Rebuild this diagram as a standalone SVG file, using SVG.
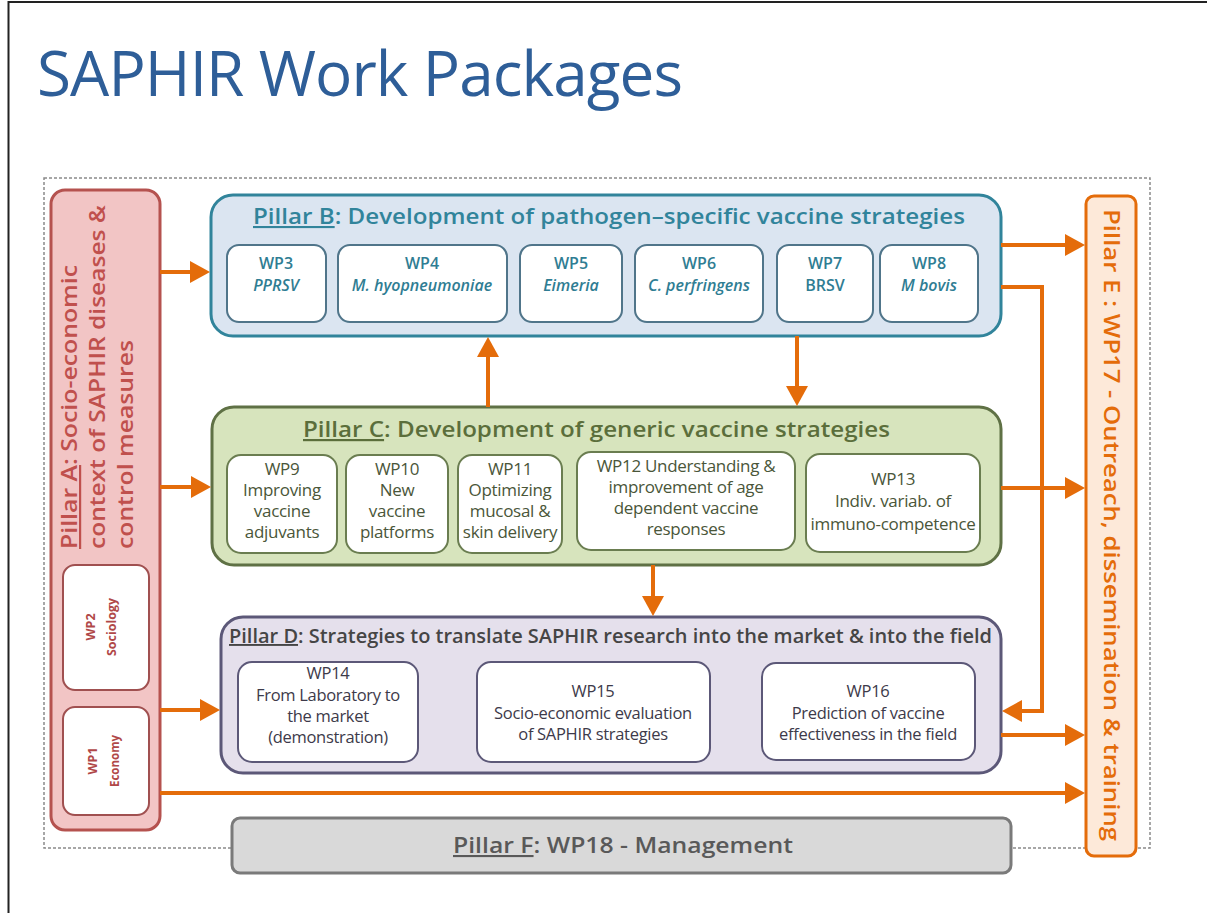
<svg xmlns="http://www.w3.org/2000/svg" width="1207" height="913" viewBox="0 0 1207 913">
<defs>
<style>
text{font-family:"Open Sans","Liberation Sans",sans-serif}
.pbox{stroke-width:3}
.sub{fill:#ffffff;stroke-width:2}
.conn{fill:none;stroke:#e46c0a;stroke-width:4;marker-end:url(#ah)}
.ttl{font-weight:600}
.bt{font-size:16px;font-weight:600;fill:#2f7d93;text-anchor:middle}
.ct{font-size:17px;font-weight:500;fill:#4a5639;text-anchor:middle;letter-spacing:-0.3px}
.dt{font-size:16.5px;font-weight:500;fill:#3d3a4a;text-anchor:middle;letter-spacing:-0.3px}
.at{font-size:12.5px;font-weight:700;fill:#b04848;text-anchor:middle}
</style>
<marker id="ah" viewBox="0 0 20 22" refX="10" refY="11" markerUnits="userSpaceOnUse" markerWidth="20" markerHeight="22" orient="auto">
<path d="M0,0 L20,11 L0,22 z" fill="#e46c0a"/>
</marker>
</defs>
<rect x="0" y="0" width="1207" height="913" fill="#ffffff"/>
<path d="M8.5,913 V2 H1207" fill="none" stroke="#222" stroke-width="2"/>
<text x="37" y="96" font-size="62" textLength="646" fill="#2e5e98">SAPHIR Work Packages</text>
<rect x="44" y="178" width="1106" height="670" fill="none" stroke="#8a8a8a" stroke-width="1.5" stroke-dasharray="3 2"/>

<g id="pillarA">
<rect class="pbox" x="51" y="190" width="109" height="640" rx="14" fill="#f2c5c5" stroke="#b5524f"/>
<text class="ttl" font-size="22" fill="#c0504d" transform="translate(77,549) rotate(-90)" textLength="284" lengthAdjust="spacingAndGlyphs"><tspan text-decoration="underline">Pillar A</tspan>: Socio-economic</text>
<text class="ttl" font-size="22" fill="#c0504d" transform="translate(105,549) rotate(-90)" textLength="344" lengthAdjust="spacingAndGlyphs">context of SAPHIR diseases &amp;</text>
<text class="ttl" font-size="22" fill="#c0504d" transform="translate(133,549) rotate(-90)" textLength="209" lengthAdjust="spacingAndGlyphs">control measures</text>
</g>
<g id="wp2">
<rect class="sub" x="63" y="565" width="86" height="125" rx="12" stroke="#a05050"/>
<text class="at" transform="translate(95,627) rotate(-90)">WP2</text>
<text class="at" transform="translate(116,627) rotate(-90)" textLength="58" lengthAdjust="spacingAndGlyphs">Sociology</text>
</g>
<g id="wp1">
<rect class="sub" x="63" y="707" width="86" height="108" rx="12" stroke="#a05050"/>
<text class="at" transform="translate(97,761) rotate(-90)">WP1</text>
<text class="at" transform="translate(119,761) rotate(-90)" textLength="52" lengthAdjust="spacingAndGlyphs">Economy</text>
</g>

<g id="pillarB">
<rect class="pbox" x="211" y="195" width="790" height="141" rx="22" fill="#dbe5f1" stroke="#31849b"/>
<text class="ttl" x="253" y="224" font-size="21" fill="#31849b" textLength="712" lengthAdjust="spacingAndGlyphs"><tspan text-decoration="underline">Pillar B</tspan>: Development of pathogen–specific vaccine strategies</text>
</g>
<g id="wp3"><rect class="sub" x="227" y="245" width="99" height="77" rx="12" stroke="#50758a"/>
<text class="bt" x="276" y="269">WP3</text><text class="bt" x="276" y="291" font-style="italic">PPRSV</text></g>
<g id="wp4"><rect class="sub" x="338" y="245" width="169" height="77" rx="12" stroke="#50758a"/>
<text class="bt" x="422" y="269">WP4</text><text class="bt" x="422" y="291" font-style="italic">M. hyopneumoniae</text></g>
<g id="wp5"><rect class="sub" x="520" y="245" width="102" height="77" rx="12" stroke="#50758a"/>
<text class="bt" x="571" y="269">WP5</text><text class="bt" x="571" y="291" font-style="italic">Eimeria</text></g>
<g id="wp6"><rect class="sub" x="635" y="245" width="128" height="77" rx="12" stroke="#50758a"/>
<text class="bt" x="699" y="269">WP6</text><text class="bt" x="699" y="291" font-style="italic">C. perfringens</text></g>
<g id="wp7"><rect class="sub" x="777" y="245" width="96" height="77" rx="12" stroke="#50758a"/>
<text class="bt" x="825" y="269">WP7</text><text class="bt" x="825" y="291">BRSV</text></g>
<g id="wp8"><rect class="sub" x="880" y="245" width="98" height="77" rx="12" stroke="#50758a"/>
<text class="bt" x="929" y="269">WP8</text><text class="bt" x="929" y="291" font-style="italic">M bovis</text></g>

<g id="pillarC">
<rect class="pbox" x="212" y="407" width="789" height="158" rx="22" fill="#d7e4bd" stroke="#5f7145"/>
<text class="ttl" x="303" y="437" font-size="22" fill="#5b6e3b" textLength="587" lengthAdjust="spacingAndGlyphs"><tspan text-decoration="underline">Pillar C</tspan>: Development of generic vaccine strategies</text>
</g>
<g id="wp9"><rect class="sub" x="227" y="455" width="110" height="98" rx="14" stroke="#6a7d50"/>
<text class="ct" x="282" y="475">WP9</text><text class="ct" x="282" y="496">Improving</text><text class="ct" x="282" y="517">vaccine</text><text class="ct" x="282" y="538">adjuvants</text></g>
<g id="wp10"><rect class="sub" x="346" y="455" width="102" height="98" rx="14" stroke="#6a7d50"/>
<text class="ct" x="397" y="475">WP10</text><text class="ct" x="397" y="496">New</text><text class="ct" x="397" y="517">vaccine</text><text class="ct" x="397" y="538">platforms</text></g>
<g id="wp11"><rect class="sub" x="458" y="455" width="104" height="98" rx="14" stroke="#6a7d50"/>
<text class="ct" x="510" y="475">WP11</text><text class="ct" x="510" y="496">Optimizing</text><text class="ct" x="510" y="517">mucosal &amp;</text><text class="ct" x="510" y="538">skin delivery</text></g>
<g id="wp12"><rect class="sub" x="577" y="452" width="218" height="98" rx="14" stroke="#6a7d50"/>
<text class="ct" x="686" y="472">WP12 Understanding &amp;</text><text class="ct" x="686" y="493">improvement of age</text><text class="ct" x="686" y="514">dependent vaccine</text><text class="ct" x="686" y="535">responses</text></g>
<g id="wp13"><rect class="sub" x="806" y="454" width="174" height="98" rx="14" stroke="#6a7d50"/>
<text class="ct" x="893" y="485">WP13</text><text class="ct" x="893" y="507">Indiv. variab. of</text><text class="ct" x="893" y="530">immuno-competence</text></g>

<g id="pillarD">
<rect class="pbox" x="221" y="617" width="780" height="156" rx="22" fill="#e5e0ec" stroke="#5c5878"/>
<text class="ttl" x="229" y="643" font-size="19" fill="#454545" textLength="763" lengthAdjust="spacingAndGlyphs"><tspan text-decoration="underline">Pillar D</tspan>: Strategies to translate SAPHIR research into the market &amp; into the field</text>
</g>
<g id="wp14"><rect class="sub" x="238" y="662" width="180" height="100" rx="14" stroke="#5c5878"/>
<text class="dt" x="328" y="679">WP14</text><text class="dt" x="328" y="701">From Laboratory to</text><text class="dt" x="328" y="722">the market</text><text class="dt" x="328" y="743">(demonstration)</text></g>
<g id="wp15"><rect class="sub" x="477" y="662" width="233" height="100" rx="14" stroke="#5c5878"/>
<text class="dt" x="593" y="697">WP15</text><text class="dt" x="593" y="719">Socio-economic evaluation</text><text class="dt" x="593" y="740">of SAPHIR strategies</text></g>
<g id="wp16"><rect class="sub" x="762" y="663" width="213" height="97" rx="14" stroke="#5c5878"/>
<text class="dt" x="868" y="697">WP16</text><text class="dt" x="868" y="719">Prediction of vaccine</text><text class="dt" x="868" y="740">effectiveness in the field</text></g>

<g id="pillarE">
<rect class="pbox" x="1086" y="196" width="50" height="660" rx="8" fill="#fde9d9" stroke="#e46c0a" stroke-width="2.5"/>
<text class="ttl" font-size="21" fill="#e46c0a" text-anchor="middle" transform="translate(1104,525) rotate(90)" textLength="632" lengthAdjust="spacingAndGlyphs">Pillar E : WP17 - Outreach, dissemination &amp; training</text>
</g>

<g id="pillarF">
<rect class="pbox" x="232" y="818" width="779" height="55" rx="8" fill="#d9d9d9" stroke="#7a7a7a"/>
<text class="ttl" x="453" y="853" font-size="21" fill="#595959" textLength="340" lengthAdjust="spacingAndGlyphs"><tspan text-decoration="underline">Pillar F</tspan>: WP18 - Management</text>
</g>

<g id="connectors">
<path class="conn" d="M160,272 H200"/>
<path class="conn" d="M160,487 H201"/>
<path class="conn" d="M160,710 H210"/>
<path class="conn" d="M160,793 H1075"/>
<path class="conn" d="M1001,245 H1075"/>
<path class="conn" d="M1001,287 H1042 V711 H1012"/>
<path class="conn" d="M488,407 V347"/>
<path class="conn" d="M797,336 V396"/>
<path class="conn" d="M1001,488 H1075"/>
<path class="conn" d="M653,565 V606"/>
<path class="conn" d="M1001,735 H1075"/>
</g>
</svg>
